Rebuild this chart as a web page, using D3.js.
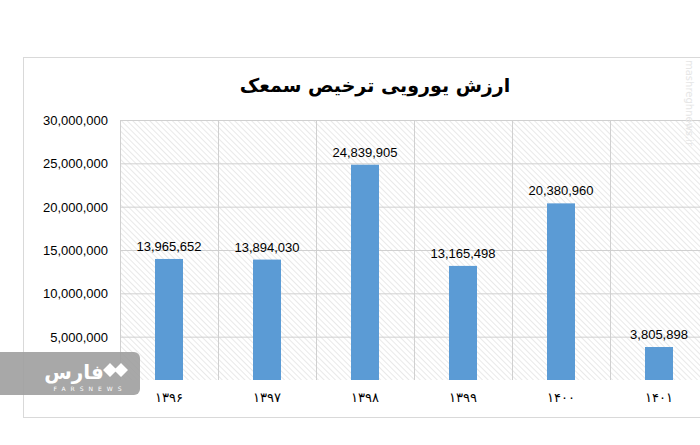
<!DOCTYPE html>
<html><head><meta charset="utf-8">
<script src="https://cdn.jsdelivr.net/npm/d3@7"></script>
<style>body{margin:0;background:#fff}svg{display:block}</style>
</head><body>
<script>
const years = ['۱۳۹۶', '۱۳۹۷', '۱۳۹۸', '۱۳۹۹', '۱۴۰۰', '۱۴۰۱'];
const values = [13965652, 13894030, 24839905, 13165498, 20380960, 3805898];
const yTicks = [5000000, 10000000, 15000000, 20000000, 25000000, 30000000];

const svg = d3.select('body').append('svg').attr('width', 700).attr('height', 445);
const defs = svg.append('defs');
const pat = defs.append('pattern').attr('id', 'hatch').attr('patternUnits', 'userSpaceOnUse')
    .attr('width', 4).attr('height', 4).attr('patternTransform', 'rotate(-45)');
pat.append('rect').attr('width', 4).attr('height', 4).attr('fill', '#fff');
pat.append('line').attr('x1', 0).attr('y1', 0).attr('x2', 0).attr('y2', 4)
    .attr('stroke', '#d4d4d4').attr('stroke-width', 1);

// frame
svg.append('rect').attr('x', 23.5).attr('y', 57.5).attr('width', 700).attr('height', 360)
    .attr('fill', 'none').attr('stroke', '#d9d9d9');

const x = d3.scaleBand().domain(years).range([120, 708]);
const y = d3.scaleLinear().domain([0, 30000000]).range([380, 120]);

svg.append('rect').attr('x', 120).attr('y', 120).attr('width', 588).attr('height', 260).attr('fill', 'url(#hatch)');

svg.append('g').selectAll('line').data(yTicks).join('line')
    .attr('x1', 120).attr('x2', 708).attr('y1', d => y(d) + 0.5).attr('y2', d => y(d) + 0.5)
    .attr('stroke', '#d0d0d0');
svg.append('g').selectAll('line').data(years).join('line')
    .attr('x1', d => x(d) + 0.5).attr('x2', d => x(d) + 0.5).attr('y1', 120).attr('y2', 380)
    .attr('stroke', '#d0d0d0');

svg.append('text').attr('x', 375).attr('y', 92).attr('text-anchor', 'middle')
    .attr('font-family', 'DejaVu Sans').attr('font-weight', 'bold').attr('font-size', 19)
    .attr('direction', 'rtl').text('ارزش یورویی ترخیص سمعک');

svg.append('g').selectAll('text').data(yTicks).join('text')
    .attr('x', 108).attr('y', d => y(d) + 5).attr('text-anchor', 'end')
    .attr('font-family', 'Liberation Sans, Arial').attr('font-size', 13)
    .text(d => d3.format(',')(d));

const bw = 28;
svg.append('g').selectAll('rect').data(values).join('rect')
    .attr('x', (d, i) => x(years[i]) + x.bandwidth() / 2 - bw / 2)
    .attr('y', d => y(d)).attr('width', bw).attr('height', d => 380 - y(d))
    .attr('fill', '#5b9bd5');
svg.append('g').selectAll('text').data(values).join('text')
    .attr('x', (d, i) => x(years[i]) + x.bandwidth() / 2)
    .attr('y', d => y(d) - 8).attr('text-anchor', 'middle')
    .attr('font-family', 'Liberation Sans, Arial').attr('font-size', 13)
    .text(d => d3.format(',')(d));

svg.append('g').selectAll('text').data(years).join('text')
    .attr('x', d => x(d) + x.bandwidth() / 2).attr('y', 402).attr('text-anchor', 'middle')
    .attr('font-family', 'DejaVu Sans').attr('font-size', 13).text(d => d);

// logo
const logo = svg.append('g');
logo.append('path').attr('d', 'M0,352 H134 a6,6 0 0 1 6,6 V389 a6,6 0 0 1 -6,6 H0 Z')
    .attr('fill', '#9e9e9e').attr('opacity', 0.9);
logo.append('text').attr('x', 74).attr('y', 379).attr('text-anchor', 'middle')
    .attr('font-family', 'DejaVu Sans').attr('font-weight', 'bold').attr('font-size', 20)
    .attr('fill', '#fff').text('فارس');
logo.append('text').attr('x', 90).attr('y', 391).attr('text-anchor', 'middle')
    .attr('font-family', 'DejaVu Sans').attr('font-size', 6).attr('letter-spacing', 5)
    .attr('fill', '#fff').text('FARSNEWS');
logo.append('path').attr('d', 'M103,370 l7,-7 l7,7 l-7,7 Z M114,370 l7,-7 l7,7 l-7,7 Z').attr('fill', '#fff');

// watermark
svg.append('text').attr('transform', 'translate(686,60) rotate(90)')
    .attr('font-family', 'DejaVu Sans').attr('font-size', 10).attr('fill', '#e6e6e6')
    .text('mashreghnews.ir');
</script>
</body></html>
